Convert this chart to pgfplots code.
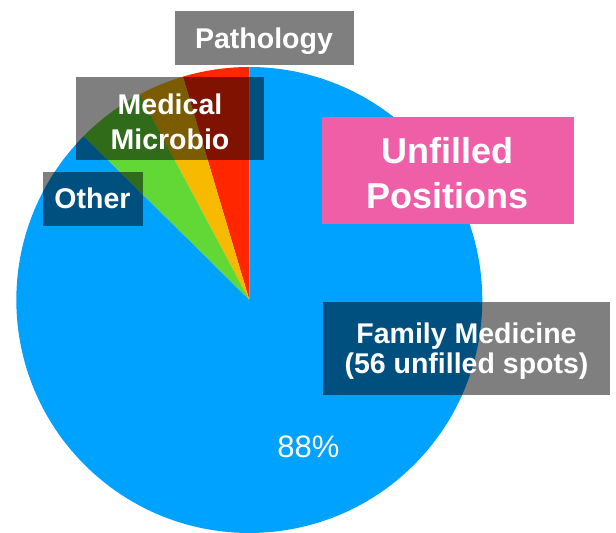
\documentclass[border=0pt]{standalone}
\usepackage{fontspec}
\setmainfont{Liberation Sans}
\usepackage{pgfplots}
\pgfplotsset{compat=1.18}
\definecolor{pieblue}{RGB}{0,162,255}
\definecolor{piered}{RGB}{255,38,0}
\definecolor{pieorange}{RGB}{248,186,0}
\definecolor{piegreen}{RGB}{97,216,54}
\definecolor{piepink}{RGB}{239,95,167}
\begin{document}
\begin{tikzpicture}
\begin{axis}[hide axis, scale only axis, width=616bp, height=533bp,
  xmin=0, xmax=616, ymin=0, ymax=533, clip=false]
\path (axis cs:0,0) rectangle (axis cs:616,533);
% slices counter-clockwise from 12 o'clock: Pathology, Medical Microbio, Other, Family Medicine
\xdef\startang{90}
\foreach \v/\col in {4.6/piered,3.2/pieorange,4.8/piegreen,87.4/pieblue}{%
  \pgfmathsetmacro\endang{\startang+3.6*\v}%
  \edef\temp{\noexpand\fill[\col] (axis cs:249.3,233) -- ++(\startang:233bp) arc[start angle=\startang, end angle=\endang, radius=233bp] -- cycle;}%
  \temp
  \xdef\startang{\endang}%
}
% boxes
\fill[black, opacity=0.5] (axis cs:174.7,468) rectangle (axis cs:354.3,522.3);
\fill[black, opacity=0.5] (axis cs:76,373) rectangle (axis cs:264,456);
\fill[black, opacity=0.5] (axis cs:43,307) rectangle (axis cs:143,361);
\fill[black, opacity=0.5] (axis cs:323,138) rectangle (axis cs:610,231);
\fill[piepink] (axis cs:322,309) rectangle (axis cs:574,416);
% texts
\begin{scope}[every node/.style={anchor=base, text=white, inner sep=0pt, font=\bfseries\fontsize{28.5bp}{34bp}\selectfont}]
\node at (axis cs:264,484.7) {Pathology};
\node at (axis cs:170,418) {Medical};
\node at (axis cs:170,383) {Microbio};
\node at (axis cs:92.5,324.7) {Other};
\node at (axis cs:466.5,189.7) {Family Medicine};
\node at (axis cs:466.5,159.7) {(56 unfilled spots)};
\node[font=\bfseries\fontsize{36bp}{42bp}\selectfont] at (axis cs:447.5,369.7) {Unfilled};
\node[font=\bfseries\fontsize{36bp}{42bp}\selectfont] at (axis cs:447.5,324.7) {Positions};
\node[font=\fontsize{31bp}{36bp}\selectfont] at (axis cs:308.3,75.7) {88\%};
\end{scope}
\end{axis}
\pgfresetboundingbox
\path (current axis.south west) rectangle (current axis.north east);
\end{tikzpicture}
\end{document}
